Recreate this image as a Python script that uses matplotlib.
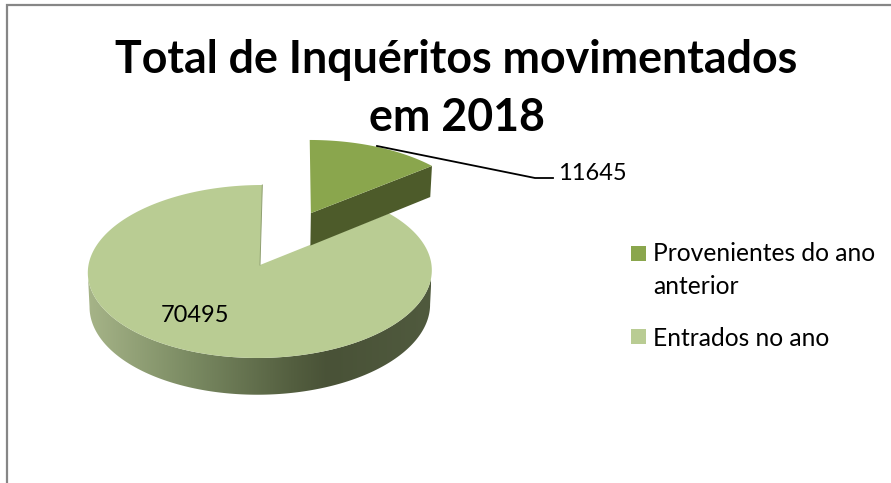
import numpy as np
import matplotlib
matplotlib.use("Agg")
import matplotlib.pyplot as plt
from matplotlib.colors import LinearSegmentedColormap
from matplotlib.patches import Polygon, Rectangle

# -----------------------------
# Dados
# -----------------------------
titulo = "Total de Inquéritos movimentados\nem 2018"
categorias = ["Provenientes do ano\nanterior", "Entrados no ano"]
valores = [11645, 70495]
cores_topo = ["#8aa64d", "#b9cc93"]
cor_lado_fatia = "#4d5b2a"
gradiente_lado = ["#a6b488", "#7a8a62", "#535e3f", "#495237", "#505a3e"]

plt.rcParams["font.family"] = ["Lato", "DejaVu Sans"]

fig = plt.figure(figsize=(8.91, 4.83), dpi=100)
ax = fig.add_axes([0, 0, 1, 1])
ax.set_xlim(0, 891)
ax.set_ylim(483, 0)
ax.axis("off")

# moldura
ax.plot([7, 7, 891], [483, 5, 5], color="#868686", lw=1.6, solid_joinstyle="miter")


# -----------------------------
# Projecao do disco para a imagem
# -----------------------------
def projeta(u, v, fundo=False):
    w = 1 + 0.075 * v
    x = 260 + (171.5 * u + 2.5 * v) / w
    y = 265 - 86 * v / w
    if fundo:
        x = 260 + (x - 260) * 0.99
        y = y + 34 / w
    return x, y


def arco(a1, a2, expl=0.0, fundo=False, n=300):
    # angulos em graus a partir das 12h, sentido horario
    meio = np.radians((a1 + a2) / 2)
    t = np.radians(np.linspace(a1, a2, n))
    u = np.sin(t) + expl * np.sin(meio)
    v = np.cos(t) + expl * np.cos(meio)
    return projeta(u, v, fundo)


def centro(a1, a2, expl=0.0, fundo=False):
    meio = np.radians((a1 + a2) / 2)
    return projeta(expl * np.sin(meio), expl * np.cos(meio), fundo)


angulos = np.cumsum([0] + valores) / sum(valores) * 360
explode = [0.7, 0.0]

# -----------------------------
# Fatia maior: lado com gradiente e topo
# -----------------------------
a1, a2 = angulos[1], angulos[2]
xt, yt = arco(a1, a2)
xb, yb = arco(a1, a2, fundo=True)

# silhueta do lado: so a parte da frente, entre os extremos em x
i_t, j_t = np.argmax(xt), np.argmin(xt)
i_b, j_b = np.argmax(xb), np.argmin(xb)
lado_xy = np.vstack([np.column_stack([xt[i_t:j_t + 1], yt[i_t:j_t + 1]]),
                     np.column_stack([xb[i_b:j_b + 1], yb[i_b:j_b + 1]])[::-1]])
lado = Polygon(lado_xy, closed=True, transform=ax.transData, fc="none", ec="none")
ax.add_patch(lado)
cmap = LinearSegmentedColormap.from_list(
    "lado", list(zip([0, 0.3, 0.6, 0.7, 1], gradiente_lado)))
img = ax.imshow(np.linspace(0, 1, 256)[None, :], cmap=cmap, aspect="auto",
                extent=[88, 431, 400, 250], zorder=1)
img.set_clip_path(lado)
ax.set_xlim(0, 891)
ax.set_ylim(483, 0)

cx, cy = centro(a1, a2)
ax.fill(np.r_[cx, xt], np.r_[cy, yt], color=cores_topo[1], lw=0, zorder=2)
ax.plot([cx, xt[-1]], [cy, yt[-1]], color="#8f9f70", lw=0.7, zorder=2)

# -----------------------------
# Fatia destacada
# -----------------------------
a1, a2 = angulos[0], angulos[1]
xt, yt = arco(a1, a2, explode[0])
cx, cy = centro(a1, a2, explode[0])
cxb, cyb = centro(a1, a2, explode[0], fundo=True)
xb, yb = arco(a1, a2, explode[0], fundo=True)
ax.fill([cx, xt[-1], xb[-1], cxb], [cy, yt[-1], yb[-1], cyb],
        color=cor_lado_fatia, lw=0, zorder=3)
ax.fill(np.r_[cx, xt], np.r_[cy, yt], color=cores_topo[0], lw=0, zorder=4)

# -----------------------------
# Rotulos, linha de chamada e legenda
# -----------------------------
ax.plot([377, 535, 553], [146, 178, 178], color="black", lw=1.3, zorder=5)
ax.text(558, 173, str(valores[0]), fontsize=17, va="center", ha="left", zorder=6)
ax.text(195.5, 315.5, str(valores[1]), fontsize=17, va="center", ha="center", zorder=6)

ax.text(456.5, 89, titulo, fontsize=32.2, fontweight="bold", ha="center",
        va="center", linespacing=1.45, zorder=6)

for cat, cor, y_q, y_t in zip(categorias, cores_topo, [246, 329], [270, 338]):
    ax.add_patch(Rectangle((631, y_q), 15, 15, fc=cor, ec="none"))
    ax.text(653, y_t, cat, fontsize=17.7, va="center", ha="left", linespacing=1.5)

fig.savefig("out.png", dpi=100)
